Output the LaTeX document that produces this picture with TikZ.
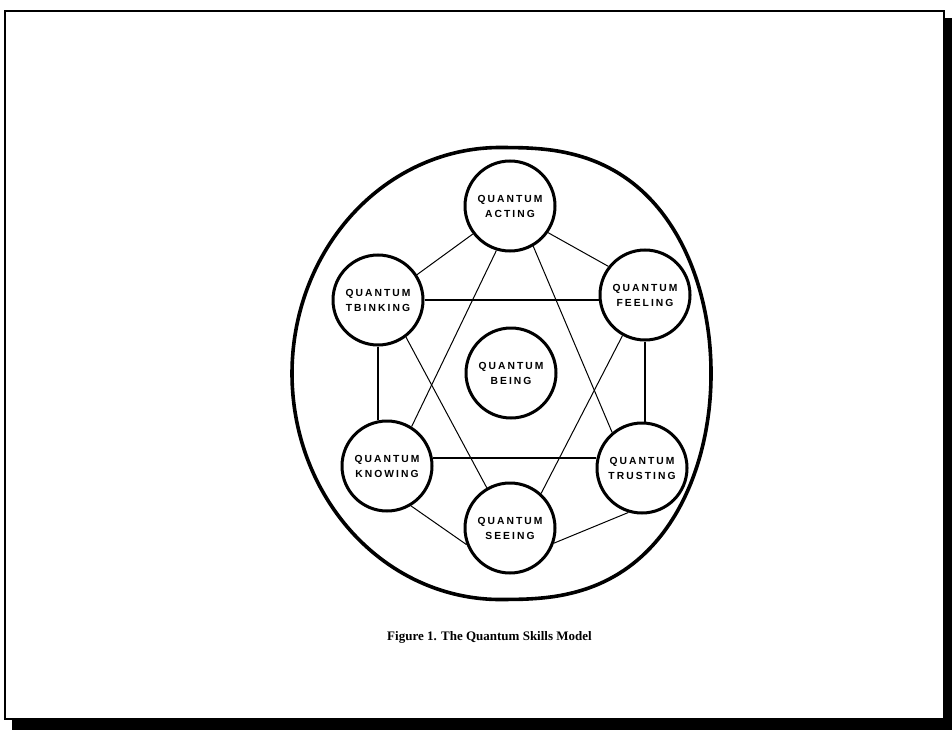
\documentclass[tikz,border=0pt]{standalone}
\usepackage{fontspec}
\setmainfont{Liberation Serif}
\newfontfamily\qfont[LetterSpace=20]{Liberation Sans}
\tikzset{
  qnode/.style={circle, draw, line width=3pt, minimum size=90pt, inner sep=0pt,
    align=center, font=\qfont\bfseries\fontsize{10.3}{15}\selectfont},
  thinline/.style={line width=1pt},
  axisline/.style={line width=1.4pt},
}
\begin{document}
\begin{tikzpicture}[x=1pt,y=-1pt]
\useasboundingbox (0,0) rectangle (952,730);
% frame with shadow
\fill[black] (12,18) rectangle (952,730);
\draw[line width=2pt, fill=white] (5,11) rectangle (944,719);
% outer ring
\draw[line width=3.6pt] plot[variable=\t, domain=0:357, samples=120, smooth cycle]
  ({500 + (cos(\t)>=0 ? 211*pow(abs(cos(\t))+0.0001,0.75) : -208*abs(cos(\t)))},
   {373.5 + 226*sin(\t)});
% nodes
\node[qnode] (acting)   at (510,206) {QUANTUM\\ACTING};
\node[qnode] (thinking) at (378,300) {QUANTUM\\TBINKING};
\node[qnode] (feeling)  at (645,295) {QUANTUM\\FEELING};
\node[qnode] (being)    at (511,373) {QUANTUM\\BEING};
\node[qnode] (knowing)  at (387,466) {QUANTUM\\KNOWING};
\node[qnode] (trusting) at (642,468) {QUANTUM\\TRUSTING};
\node[qnode] (seeing)   at (510,528) {QUANTUM\\SEEING};
% hexagon
\draw[thinline] (acting.217) -- (thinking.33);
\draw[thinline] (acting.325) -- (feeling.142);
\draw[axisline] (thinking.south) -- (thinking.south |- knowing.north);
\draw[axisline] (feeling.south) -- (feeling.south |- trusting.north);
\draw[thinline] (knowing.301) -- (seeing.201);
\draw[thinline] (trusting.253) -- (seeing.341);
% triangles
\draw[thinline] (acting.253) -- (knowing.58);
\draw[thinline] (acting.300) -- (trusting.130);
\draw[axisline] (knowing.10) -- (knowing.10 -| trusting.west);
\draw[thinline] (thinking.307) -- (seeing.120);
\draw[thinline] (feeling.241) -- (seeing.48);
\draw[axisline] (thinking.east) -- (thinking.east -| feeling.west);
% caption
\node[font=\bfseries\fontsize{13}{15}\selectfont, anchor=base] (caption) at (489.5,640.5) {Figure 1. The Quantum Skills Model};
\end{tikzpicture}
\end{document}
